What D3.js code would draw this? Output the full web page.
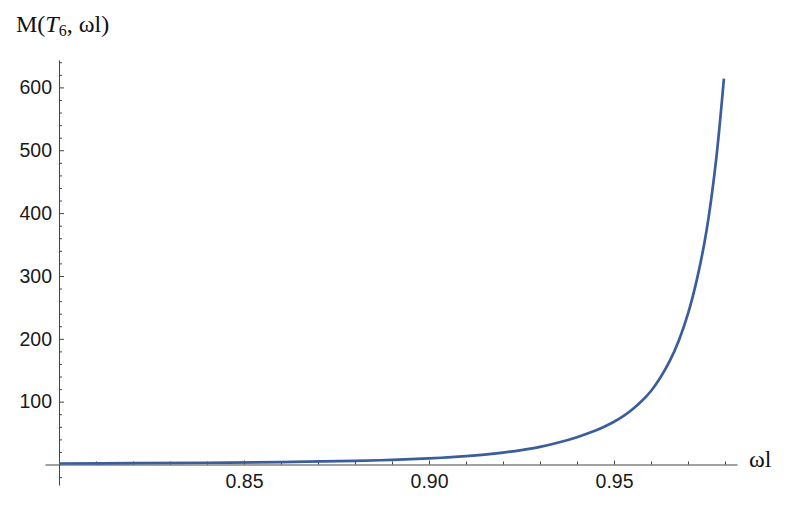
<!DOCTYPE html>
<html>
<head>
<meta charset="utf-8">
<script src="https://cdn.jsdelivr.net/npm/d3@7/dist/d3.min.js"></script>
<style>
  html, body { margin: 0; padding: 0; background: #fff; }
  svg { display: block; }
  .tick text { font-family: "Liberation Sans", Arial, sans-serif; font-size: 19.5px; fill: #1a1a1a; }
  .axis path, .axis line { stroke: #444; stroke-width: 1; }
</style>
</head>
<body>
<svg id="chart" width="791" height="508"></svg>
<script>
// ---- data ----
const omegaL = [0.80, 0.82, 0.84, 0.86, 0.88, 0.89, 0.90, 0.905, 0.91, 0.915, 0.92, 0.925, 0.93, 0.935, 0.94, 0.945,
                0.9475, 0.95, 0.9525, 0.955, 0.9575, 0.96, 0.9625, 0.965, 0.9675, 0.97, 0.9725, 0.975, 0.9775, 0.9797];
const mValues = [1.6, 2.1, 2.8, 3.9, 5.8, 7.4, 9.8, 11.3, 13.3, 15.8, 19, 23, 28, 35, 43.5, 54,
                 60.5, 68, 77, 88, 101, 117, 138, 164, 197, 240, 297, 372, 480, 614];
const yMajorTicks = [100, 200, 300, 400, 500, 600];
const yMinorTicks = [-20, 20, 40, 60, 80, 120, 140, 160, 180, 220, 240, 260, 280, 320, 340, 360, 380, 420, 440, 460, 480, 520, 540, 560, 580, 620, 640];
const xMajorTicks = [0.85, 0.90, 0.95];
const xMinorTicks = [0.81, 0.82, 0.83, 0.84, 0.86, 0.87, 0.88, 0.89, 0.91, 0.92, 0.93, 0.94, 0.96, 0.97, 0.98];
const yLabel = ["M(", "T", "6", ", ωl)"];
const xLabel = "ωl";

const svg = d3.select("#chart");

const x = d3.scaleLinear().domain([0.79622, 0.98324]).range([45, 737]);
const y = d3.scaleLinear().domain([-32.6, 643.6]).range([485, 60]);

const xAxisY = y(0);
const yAxisX = x(0.80);

// y axis: minor ticks
svg.append("g").attr("class", "axis")
  .attr("transform", `translate(${yAxisX},0)`)
  .call(d3.axisLeft(y).tickValues(yMinorTicks).tickSize(-3).tickSizeOuter(0).tickFormat(""));
// y axis: major ticks + labels
svg.append("g").attr("class", "axis")
  .attr("transform", `translate(${yAxisX},0)`)
  .call(d3.axisLeft(y).tickValues(yMajorTicks).tickSize(-5).tickSizeOuter(0).tickPadding(7).tickFormat(d3.format("d")))
  .call(g => g.select(".domain").remove());

// x axis: minor ticks
svg.append("g").attr("class", "axis")
  .attr("transform", `translate(0,${xAxisY})`)
  .call(d3.axisBottom(x).tickValues(xMinorTicks).tickSize(-3).tickSizeOuter(0).tickFormat(""));
// x axis: major ticks + labels
svg.append("g").attr("class", "axis")
  .attr("transform", `translate(0,${xAxisY})`)
  .call(d3.axisBottom(x).tickValues(xMajorTicks).tickSize(-4).tickSizeOuter(0).tickPadding(10).tickFormat(d3.format(".2f")))
  .call(g => g.select(".domain").remove());

svg.selectAll(".axis text").attr("fill", "#1a1a1a");

// curve
const line = d3.line()
  .x((d, i) => x(omegaL[i]))
  .y(d => y(d))
  .curve(d3.curveCatmullRom.alpha(0.5));

svg.append("path")
  .datum(mValues)
  .attr("fill", "none")
  .attr("stroke", "#3a5e9c")
  .attr("stroke-width", 2.7)
  .attr("stroke-linecap", "butt")
  .attr("d", line);

// axis labels
const yl = svg.append("text")
  .attr("x", 16).attr("y", 32)
  .attr("font-family", "'Liberation Serif', 'Times New Roman', serif")
  .attr("font-size", 24)
  .attr("fill", "#111");
yl.append("tspan").text(yLabel[0]);
yl.append("tspan").attr("font-style", "italic").text(yLabel[1]);
yl.append("tspan").attr("font-size", 16).attr("dy", 4).text(yLabel[2]);
yl.append("tspan").attr("dy", -4).text(yLabel[3]);

svg.append("text")
  .attr("x", 749).attr("y", 467)
  .attr("font-family", "'Liberation Serif', 'Times New Roman', serif")
  .attr("font-size", 24)
  .attr("fill", "#111")
  .text(xLabel);
</script>
</body>
</html>
